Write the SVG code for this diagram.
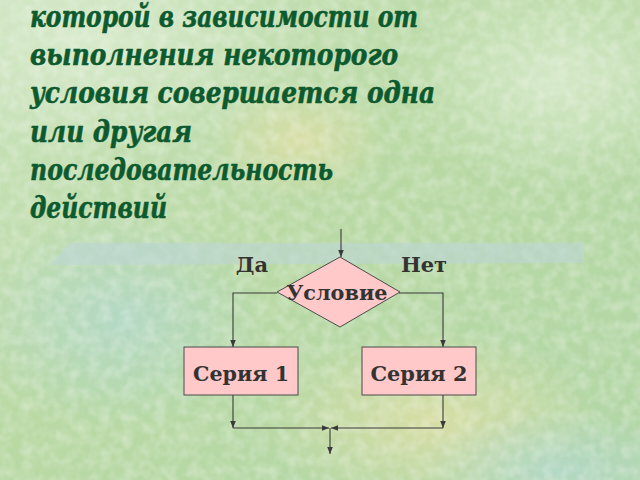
<svg xmlns="http://www.w3.org/2000/svg" width="640" height="480" viewBox="0 0 640 480">
<defs>
<linearGradient id="bg" x1="0" y1="0" x2="1" y2="1">
<stop offset="0" stop-color="#cbe3bd"/>
<stop offset="0.45" stop-color="#b9d9a4"/>
<stop offset="1" stop-color="#b2d6a6"/>
</linearGradient>
<radialGradient id="blobY" cx="0.5" cy="0.5" r="0.5">
<stop offset="0" stop-color="#e0dfa6" stop-opacity="0.8"/>
<stop offset="1" stop-color="#e0dfa6" stop-opacity="0"/>
</radialGradient>
<radialGradient id="blobB" cx="0.5" cy="0.5" r="0.5">
<stop offset="0" stop-color="#b2d8cc" stop-opacity="0.8"/>
<stop offset="1" stop-color="#b2d8cc" stop-opacity="0"/>
</radialGradient>
<radialGradient id="blobL" cx="0.5" cy="0.5" r="0.5">
<stop offset="0" stop-color="#d8eacc" stop-opacity="0.9"/>
<stop offset="1" stop-color="#d8eacc" stop-opacity="0"/>
</radialGradient>
<filter id="tex" x="0" y="0" width="100%" height="100%">
<feTurbulence type="fractalNoise" baseFrequency="0.09" numOctaves="2" seed="3"/>
<feColorMatrix type="matrix" values="0 0 0 0 1  0 0 0 0 1  0 0 0 0 1  0 0 0 -1.6 1.05"/>
</filter>
<marker id="ah" viewBox="0 0 10 10" refX="10" refY="5" markerWidth="7" markerHeight="7" orient="auto" markerUnits="userSpaceOnUse">
<path d="M0,1 L10,5 L0,9 Z" fill="#3a3a3a"/>
</marker>
<style>
.head{font-family:"DejaVu Serif","Liberation Serif",serif;font-weight:bold;font-style:italic;font-size:30px;fill:#0d5a2f;stroke:#0d5a2f;stroke-width:0.6}
.lbl{font-family:"DejaVu Serif","Liberation Serif",serif;font-weight:bold;fill:#333333}
.conn{fill:none;stroke:#3a3a3a;stroke-width:1.1}
.arr{marker-end:url(#ah)}
.shape{fill:#ffc9c9;stroke:#4a4a4a;stroke-width:1}
</style>
</defs>
<g id="background">
<rect width="640" height="480" fill="url(#bg)"/>
<ellipse cx="90" cy="40" rx="200" ry="120" fill="url(#blobL)"/>
<ellipse cx="560" cy="80" rx="160" ry="110" fill="url(#blobL)"/>
<ellipse cx="430" cy="420" rx="170" ry="90" fill="url(#blobY)"/>
<ellipse cx="120" cy="320" rx="150" ry="110" fill="url(#blobB)"/>
<ellipse cx="560" cy="470" rx="140" ry="60" fill="url(#blobB)"/>
<ellipse cx="300" cy="140" rx="90" ry="60" fill="url(#blobY)"/>
<rect width="640" height="480" filter="url(#tex)" opacity="0.35"/>
<polygon points="70,243 584,243 584,263 50,265" fill="#bdd6d6" opacity="0.6"/>
</g>
<g id="heading">
<text class="head" x="30" y="27" textLength="388" lengthAdjust="spacingAndGlyphs">которой в зависимости от</text>
<text class="head" x="30" y="65" textLength="368" lengthAdjust="spacingAndGlyphs">выполнения некоторого</text>
<text class="head" x="30" y="103" textLength="405" lengthAdjust="spacingAndGlyphs">условия совершается одна</text>
<text class="head" x="30" y="142" textLength="162" lengthAdjust="spacingAndGlyphs">или другая</text>
<text class="head" x="30" y="180" textLength="303" lengthAdjust="spacingAndGlyphs">последовательность</text>
<text class="head" x="30" y="218" textLength="137" lengthAdjust="spacingAndGlyphs">действий</text>
</g>
<g id="connectors">
<line class="conn arr" x1="341" y1="229" x2="341" y2="257"/>
<polyline class="conn arr" points="277,293 233,293 233,347"/>
<polyline class="conn arr" points="399,293 443,293 443,347"/>
<line class="conn arr" x1="233" y1="395" x2="233" y2="428"/>
<line class="conn arr" x1="443" y1="395" x2="443" y2="428"/>
<line class="conn arr" x1="233" y1="428" x2="329" y2="428"/>
<line class="conn arr" x1="443" y1="428" x2="331" y2="428"/>
<line class="conn arr" x1="330" y1="428" x2="330" y2="454"/>
</g>
<g id="label-da"><text class="lbl" x="252" y="272" font-size="21" text-anchor="middle">Да</text></g>
<g id="label-net"><text class="lbl" x="424" y="272" font-size="21" text-anchor="middle">Нет</text></g>
<g id="condition">
<polygon class="shape" points="340,257 400,292 340,327 277,292"/>
<text class="lbl" x="337" y="300" font-size="21" text-anchor="middle" textLength="101" lengthAdjust="spacingAndGlyphs">Условие</text>
</g>
<g id="series1">
<rect class="shape" x="184" y="347" width="114" height="48"/>
<text class="lbl" x="241" y="381" font-size="21" text-anchor="middle" textLength="96" lengthAdjust="spacingAndGlyphs">Серия 1</text>
</g>
<g id="series2">
<rect class="shape" x="362" y="347" width="114" height="48"/>
<text class="lbl" x="419" y="381" font-size="21" text-anchor="middle" textLength="97" lengthAdjust="spacingAndGlyphs">Серия 2</text>
</g>
</svg>
